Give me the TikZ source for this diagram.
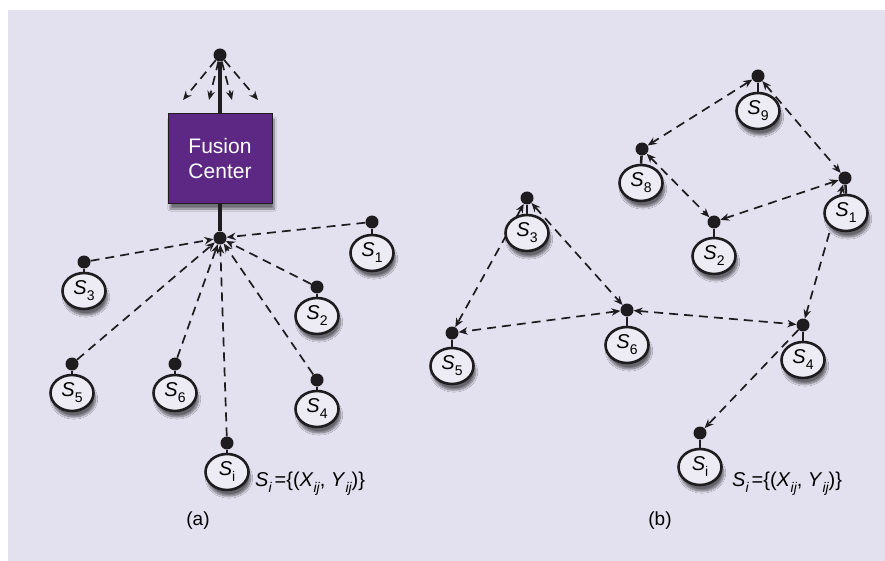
\documentclass[tikz,border=0pt]{standalone}
\usepackage{fontspec}
\setmainfont{Liberation Sans}
\usetikzlibrary{arrows.meta,shapes.geometric,shadows.blur}
\definecolor{bg}{RGB}{227,224,239}
\definecolor{nodefill}{RGB}{237,235,244}
\definecolor{fcpurple}{RGB}{92,40,132}
\definecolor{ink}{RGB}{30,28,30}
\newcommand{\lowsub}[1]{\raisebox{-0.3em}{\fontsize{14}{14}\selectfont #1}}
\newcommand{\itsub}[1]{\raisebox{-0.3em}{\fontsize{14}{14}\selectfont\itshape #1}}
\begin{document}
\begin{tikzpicture}[x=1pt,y=-1pt,
  dotn/.style={circle,fill=ink,inner sep=0pt,minimum size=13pt},
  sens/.style={ellipse,draw=ink,line width=2.6pt,fill=nodefill,minimum width=43pt,minimum height=36pt,inner sep=0pt,
    font=\fontsize{20}{20}\selectfont,
    blur shadow={shadow xshift=2pt,shadow yshift=-6pt,shadow blur steps=10,shadow opacity=55}},
  stem/.style={draw=ink,line width=2.5pt},
  link/.style={draw=ink,line width=1.7pt,dash pattern=on 9pt off 6pt},
  onetip/.style={-{Stealth[length=9pt,width=7.5pt]}},
  twotip/.style={{Stealth[length=9pt,width=7.5pt]}-{Stealth[length=9pt,width=7.5pt]}},
  lbl/.style={font=\fontsize{20}{24}\selectfont,anchor=base west,inner sep=0pt},
  captxt/.style={font=\fontsize{19}{22}\selectfont,anchor=base,inner sep=0pt}
]
\useasboundingbox (0,0) rectangle (885,561);
\fill[white] (0,0) rectangle (885,561);
\fill[bg] (8,10) rectangle (885,561);

% ---------- panel (a): dots and fusion center ----------
\node[dotn] (top) at (220,55) {};
\node[dotn] (c) at (220,238) {};
\node[dotn] (a1) at (372,222) {};
\node[dotn] (a2) at (317,287) {};
\node[dotn] (a3) at (84,262) {};
\node[dotn] (a5) at (72,364) {};
\node[dotn] (a6) at (175,364) {};
\node[dotn] (a4) at (317,380) {};
\node[dotn] (ai) at (227,443) {};
\coordinate (t1) at (183,100);
\coordinate (t2) at (209,100);
\coordinate (t3) at (232,100);
\coordinate (t4) at (258,100);
\node[draw=ink,line width=0.8pt,fill=fcpurple,minimum width=104pt,minimum height=90pt,inner sep=0pt,
  text=white,align=center,font=\fontsize{21}{25}\selectfont,
  blur shadow={shadow xshift=2pt,shadow yshift=-6pt,shadow blur steps=10,shadow opacity=50}] (fc) at (220,158) {Fusion\\Center};

\draw[ink,line width=3.8pt] (top) -- (fc.north);
\draw[ink,line width=3.8pt] (fc.south) -- (c);
\foreach \t in {t1,t2,t3,t4} \draw[link,onetip] (top) -- (\t);
\foreach \s in {1,2,3,4,5,6,i} \draw[link,onetip] (a\s) -- (c);

% ---------- panel (b): dots and links ----------
\node[dotn] (b9) at (758,76) {};
\node[dotn] (b8) at (642,149) {};
\node[dotn] (b2) at (714,222) {};
\node[dotn] (b1) at (845,178) {};
\node[dotn] (b3) at (527,198) {};
\node[dotn] (b5) at (452,333) {};
\node[dotn] (b6) at (627,310) {};
\node[dotn] (b4) at (803,325) {};
\node[dotn] (bi) at (700,433) {};

\draw[link,twotip] (b9) -- (b8);
\draw[link,twotip] (b9) -- (b1);
\draw[link,twotip] (b8) -- (b2);
\draw[link,twotip] (b1) -- (b2);
\draw[link,twotip] (b1) -- (b4);
\draw[link,twotip] (b3) -- (b5);
\draw[link,twotip] (b3) -- (b6);
\draw[link,twotip] (b6) -- (b5);
\draw[link,twotip] (b6) -- (b4);
\draw[link,onetip] (b4) -- (bi);

% ---------- sensors (a) ----------
\node[sens] (ea1) at (372,253) {\textit{S}\lowsub{1}};
\node[sens] (ea2) at (317,316) {\textit{S}\lowsub{2}};
\node[sens] (ea3) at (84,291) {\textit{S}\lowsub{3}};
\node[sens] (ea5) at (72,393) {\textit{S}\lowsub{5}};
\node[sens] (ea6) at (175,393) {\textit{S}\lowsub{6}};
\node[sens] (ea4) at (317,409) {\textit{S}\lowsub{4}};
\node[sens] (eai) at (227,472) {\textit{S}\lowsub{i}};
\foreach \s in {1,2,3,4,5,6,i} \draw[stem] (a\s) -- (ea\s.north);

% ---------- sensors (b) ----------
\node[sens] (eb9) at (758,111) {\textit{S}\lowsub{9}};
\node[sens] (eb8) at (641,183) {\textit{S}\lowsub{8}};
\node[sens] (eb2) at (714,256) {\textit{S}\lowsub{2}};
\node[sens] (eb1) at (846,213) {\textit{S}\lowsub{1}};
\node[sens] (eb3) at (527,233) {\textit{S}\lowsub{3}};
\node[sens] (eb5) at (452,366) {\textit{S}\lowsub{5}};
\node[sens] (eb6) at (627,345) {\textit{S}\lowsub{6}};
\node[sens] (eb4) at (803,360) {\textit{S}\lowsub{4}};
\node[sens] (ebi) at (700,467) {\textit{S}\lowsub{i}};
\foreach \s in {1,2,3,4,5,6,8,9,i} \draw[stem] (b\s) -- (eb\s.north);

% ---------- texts ----------
\node[lbl] (fa) at (255,486) {\textit{S}\itsub{i}\kern3pt=\{(\textit{X}\itsub{ij}, \textit{Y}\itsub{ij})\}};
\node[captxt] (capa) at (198,525) {(a)};
\node[lbl] (fb) at (732,486) {\textit{S}\itsub{i}\kern3pt=\{(\textit{X}\itsub{ij}, \textit{Y}\itsub{ij})\}};
\node[captxt] (capb) at (660,525) {(b)};
\end{tikzpicture}
\end{document}
